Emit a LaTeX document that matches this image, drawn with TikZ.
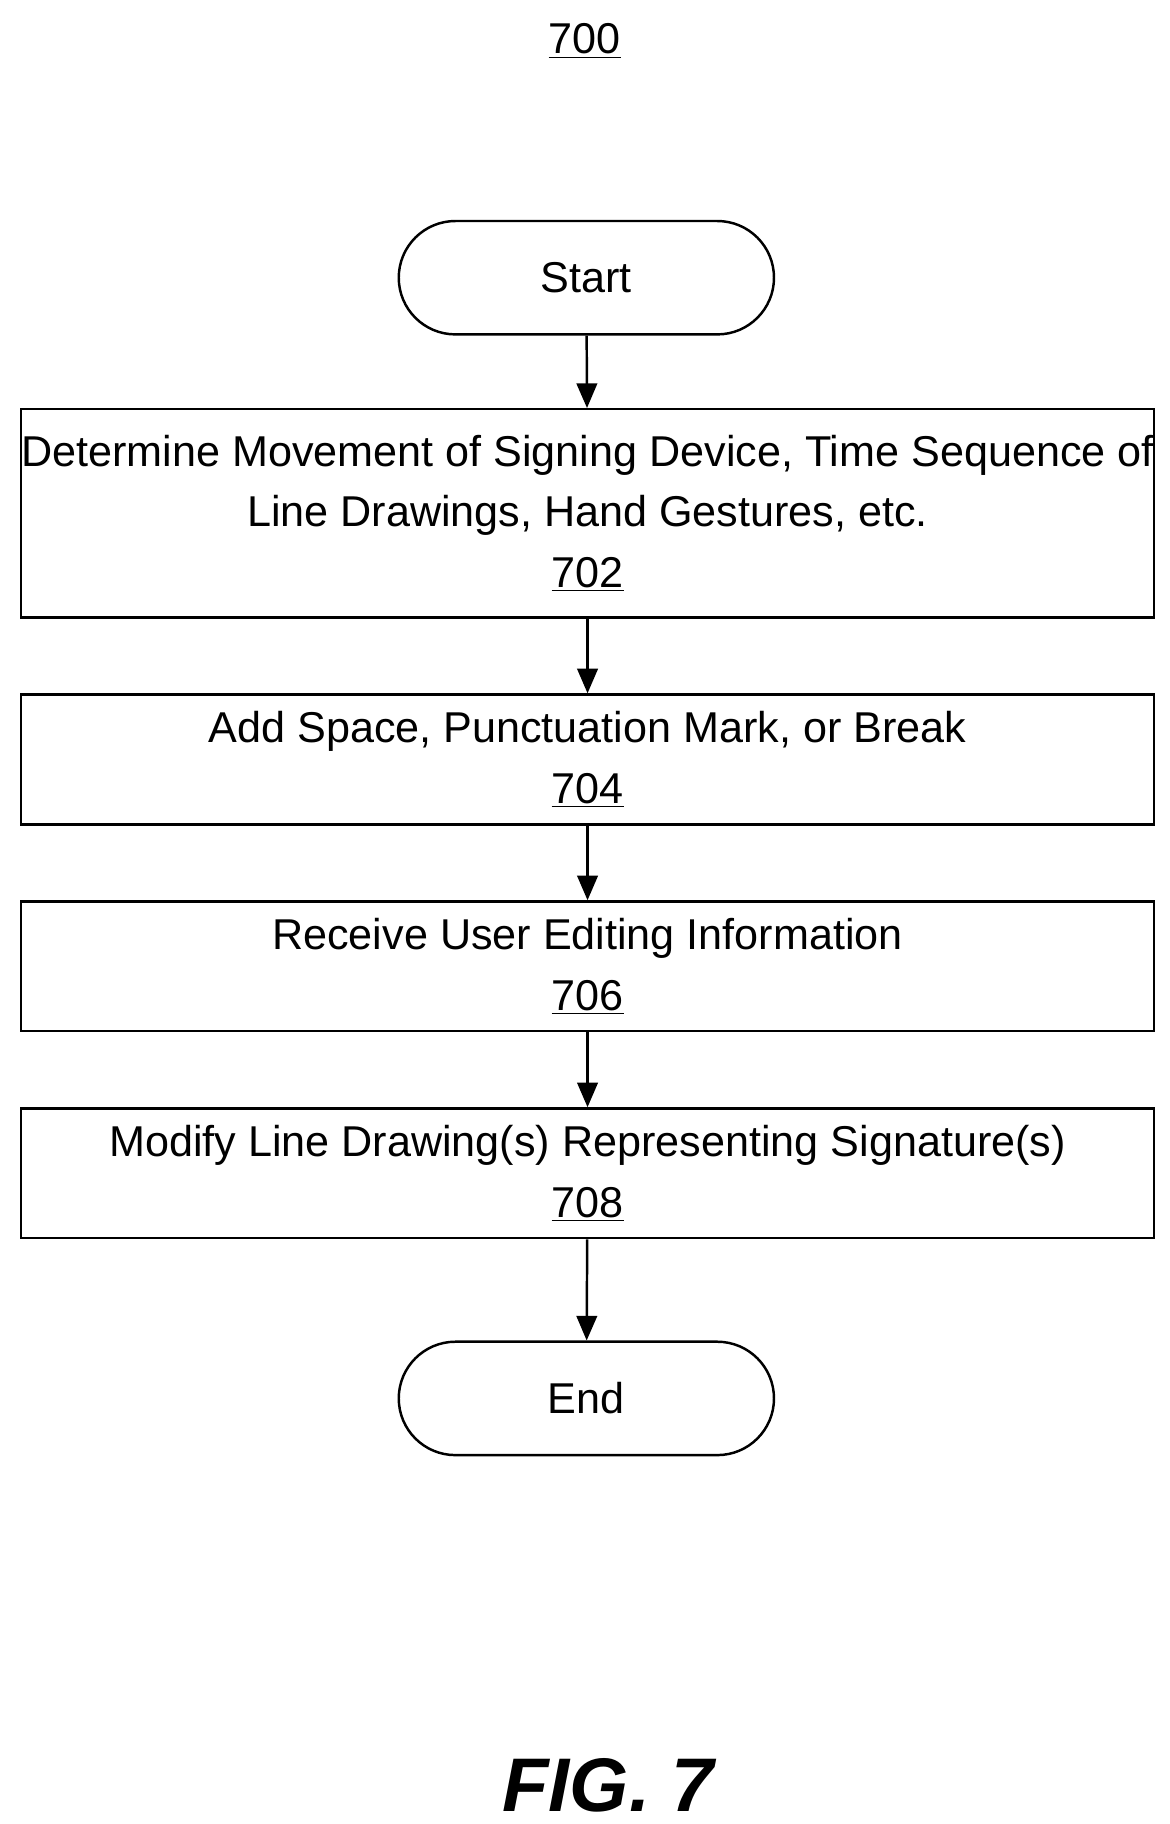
\documentclass[tikz,border=0pt]{standalone}
\usepackage{fontspec}
\setmainfont{Liberation Sans}
\usetikzlibrary{arrows.meta}
\begin{document}
\begin{tikzpicture}[x=0.02cm,y=-0.02cm,
  box/.style={draw,line width=1.2pt,minimum width=19.38cm,align=center,inner sep=0pt,font=\fontsize{21}{29.5}\selectfont},
  term/.style={draw,line width=1.2pt,rounded corners=0.97cm,minimum width=6.42cm,minimum height=1.94cm,font=\fontsize{21}{29.5}\selectfont},
  arr/.style={-{Triangle[length=12pt,width=10pt]},line width=1.2pt}]
\useasboundingbox (0,0) rectangle (1000,1560);
\node[font=\fontsize{21}{25}\selectfont] (t) at (500,35) {\underline{700}};
\node[term] (s) at (501.5,237.5) {Start};
\node[box,minimum height=3.56cm] (a) at (502.5,439) {Determine Movement of Signing Device, Time Sequence of\\Line Drawings, Hand Gestures, etc.\\\underline{702}};
\node[box,minimum height=2.22cm] (b) at (502.5,649.5) {Add Space, Punctuation Mark, or Break\\\underline{704}};
\node[box,minimum height=2.22cm] (c) at (502.5,826.5) {Receive User Editing Information\\\underline{706}};
\node[box,minimum height=2.22cm] (d) at (502.5,1003.5) {Modify Line Drawing(s) Representing Signature(s)\\\underline{708}};
\node[term] (e) at (501.5,1196) {End};
\node[font=\fontsize{37}{40}\selectfont\bfseries\itshape] (f) at (520,1527) {FIG. 7};
\draw[arr] (s) -- (a);
\draw[arr] (a) -- (b);
\draw[arr] (b) -- (c);
\draw[arr] (c) -- (d);
\draw[arr] (d) -- (e);
\end{tikzpicture}
\end{document}
